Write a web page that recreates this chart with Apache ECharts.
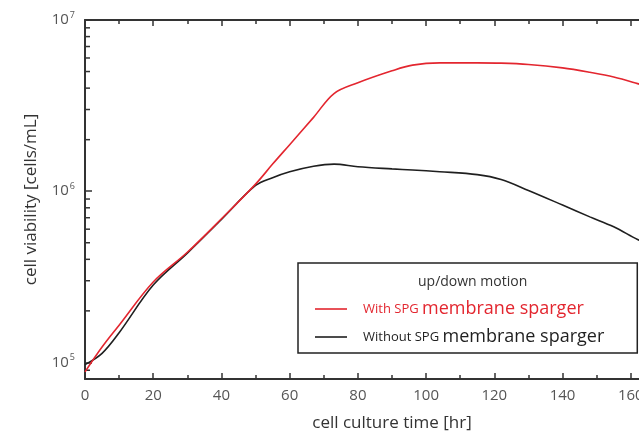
<!DOCTYPE html>
<html>
<head>
<meta charset="utf-8">
<script src="https://cdn.jsdelivr.net/npm/echarts@6/dist/echarts.min.js"></script>
<style>
  html, body { margin: 0; padding: 0; overflow: hidden; background: #fff; }
  #chart { width: 709px; height: 435px; }
</style>
</head>
<body>
<div id="chart"></div>
<script>
// culture time [hr]
const hours = [0, 5, 10, 20, 30, 40, 50, 55, 60, 67, 73, 80, 90, 96, 104, 115, 122, 130, 140, 148, 155, 162, 170];
// viable cells [cells/mL]
const withSpg = [88e3, 123e3, 165e3, 295e3, 440e3, 690e3, 1.1e6, 1.44e6, 1.87e6, 2.7e6, 3.72e6, 4.3e6, 5.05e6, 5.45e6, 5.62e6, 5.62e6, 5.6e6, 5.5e6, 5.25e6, 4.95e6, 4.65e6, 4.25e6, 3.8e6];
const withoutSpg = [97e3, 113e3, 149e3, 283e3, 435e3, 684e3, 1.08e6, 1.2e6, 1.3e6, 1.4e6, 1.44e6, 1.39e6, 1.35e6, 1.33e6, 1.3e6, 1.25e6, 1.17e6, 1.01e6, 0.83e6, 0.708e6, 0.62e6, 0.522e6, 0.44e6];
// log minor ticks on the left axis
const minorTickValues = [8e4, 9e4, 2e5, 3e5, 4e5, 5e5, 6e5, 7e5, 8e5, 9e5, 2e6, 3e6, 4e6, 5e6, 6e6, 7e6, 8e6, 9e6];

const FONT = '"Open Sans", sans-serif';
const RED = '#e3262f';
const BLACK = '#1f1f1f';
const AXIS = '#333';

const chart = echarts.init(document.getElementById('chart'), null, { renderer: 'canvas' });

const toPairs = (ys) => hours.map((h, i) => [h, ys[i]]);

const option = {
  animation: false,
  textStyle: { fontFamily: FONT },
  title: {
    text: 'up/down motion',
    left: 413,
    top: 270,
    textStyle: { fontFamily: FONT, fontSize: 14, fontWeight: 'normal', color: '#333' }
  },
  legend: {
    left: 298,
    top: 263,
    orient: 'vertical',
    padding: [36, 33, 6, 17],
    itemGap: 8,
    itemWidth: 32,
    itemHeight: 1.6,
    icon: 'rect',
    borderColor: '#222',
    borderWidth: 1.5,
    borderRadius: 0,
    data: [
      { name: 'with', textStyle: { color: RED }, itemStyle: { color: RED } },
      { name: 'without', textStyle: { color: BLACK }, itemStyle: { color: BLACK } }
    ],
    formatter: (name) => name === 'with'
      ? '{rs|With SPG }{rb|membrane sparger}'
      : '{ks|Without SPG }{kb|membrane sparger}',
    textStyle: {
      fontFamily: FONT,
      lineHeight: 20,
      rich: {
        rs: { fontSize: 13, lineHeight: 20, color: RED, padding: [0, 0, 0, 11], fontFamily: FONT },
        rb: { fontSize: 18, lineHeight: 20, color: RED, fontFamily: FONT },
        ks: { fontSize: 13, lineHeight: 20, color: BLACK, padding: [0, 0, 0, 11], fontFamily: FONT },
        kb: { fontSize: 18, lineHeight: 20, color: BLACK, fontFamily: FONT }
      }
    }
  },
  grid: { left: 85, right: 10, top: 20, bottom: 56, containLabel: false, outerBoundsMode: 'none' },
  xAxis: [
    {
      type: 'value',
      min: 0,
      max: 180,
      interval: 20,
      name: 'cell culture time [hr]',
      nameLocation: 'middle',
      nameGap: 36,
      nameTextStyle: { fontSize: 17, color: '#333', fontFamily: FONT },
      axisLine: { show: true, lineStyle: { color: AXIS, width: 2 } },
      axisTick: { show: true, inside: true, length: 6, lineStyle: { color: AXIS, width: 1.5 } },
      minorTick: { show: true, splitNumber: 2, length: 4, lineStyle: { color: AXIS, width: 1.5 } },
      axisLabel: { fontSize: 15, color: '#555', margin: 9, fontFamily: FONT },
      splitLine: { show: false }
    },
    {
      type: 'value',
      position: 'top',
      min: 0,
      max: 180,
      interval: 20,
      axisLine: { show: true, lineStyle: { color: AXIS, width: 2 } },
      axisTick: { show: true, inside: true, length: 6, lineStyle: { color: AXIS, width: 1.5 } },
      minorTick: { show: true, splitNumber: 2, length: 4, lineStyle: { color: AXIS, width: 1.5 } },
      axisLabel: { show: false },
      splitLine: { show: false }
    }
  ],
  yAxis: {
    type: 'log',
    logBase: 10,
    min: 8e4,
    max: 1e7,
    name: 'cell viability [cells/mL]',
    nameLocation: 'middle',
    nameGap: 45,
    nameTextStyle: { fontSize: 17, color: '#333', fontFamily: FONT },
    axisLine: { show: true, lineStyle: { color: AXIS, width: 2 } },
    axisTick: { show: true, inside: true, length: 7, lineStyle: { color: AXIS, width: 1.5 } },
    axisLabel: {
      color: '#555',
      fontSize: 15,
      margin: 10,
      fontFamily: FONT,
      showMinLabel: false,
      formatter: (v) => {
        const e = Math.round(Math.log10(v));
        if (Math.abs(v - Math.pow(10, e)) > v * 1e-6) return '';
        return '10{sup|' + e + '}';
      },
      rich: {
        sup: { fontSize: 9, color: '#555', verticalAlign: 'top', padding: [0, 0, 10, 1], fontFamily: FONT }
      }
    },
    splitLine: { show: false }
  },
  series: [
    {
      name: 'with',
      type: 'line',
      data: toPairs(withSpg),
      smooth: 0.35,
      symbol: 'none',
      lineStyle: { color: RED, width: 1.6 },
      itemStyle: { color: RED },
      z: 3
    },
    {
      name: 'without',
      type: 'line',
      data: toPairs(withoutSpg),
      smooth: 0.35,
      symbol: 'none',
      lineStyle: { color: BLACK, width: 1.6 },
      itemStyle: { color: BLACK },
      z: 2
    },
    {
      name: 'minorTicks',
      type: 'custom',
      silent: true,
      clip: true,
      data: minorTickValues.map((v) => [0, v]),
      renderItem: (params, api) => {
        const p = api.coord([api.value(0), api.value(1)]);
        return {
          type: 'line',
          shape: { x1: p[0], y1: p[1], x2: p[0] + 5, y2: p[1] },
          style: { stroke: AXIS, lineWidth: 1.5 }
        };
      },
      z: 1
    }
  ]
};

chart.setOption(option);
</script>
</body>
</html>
